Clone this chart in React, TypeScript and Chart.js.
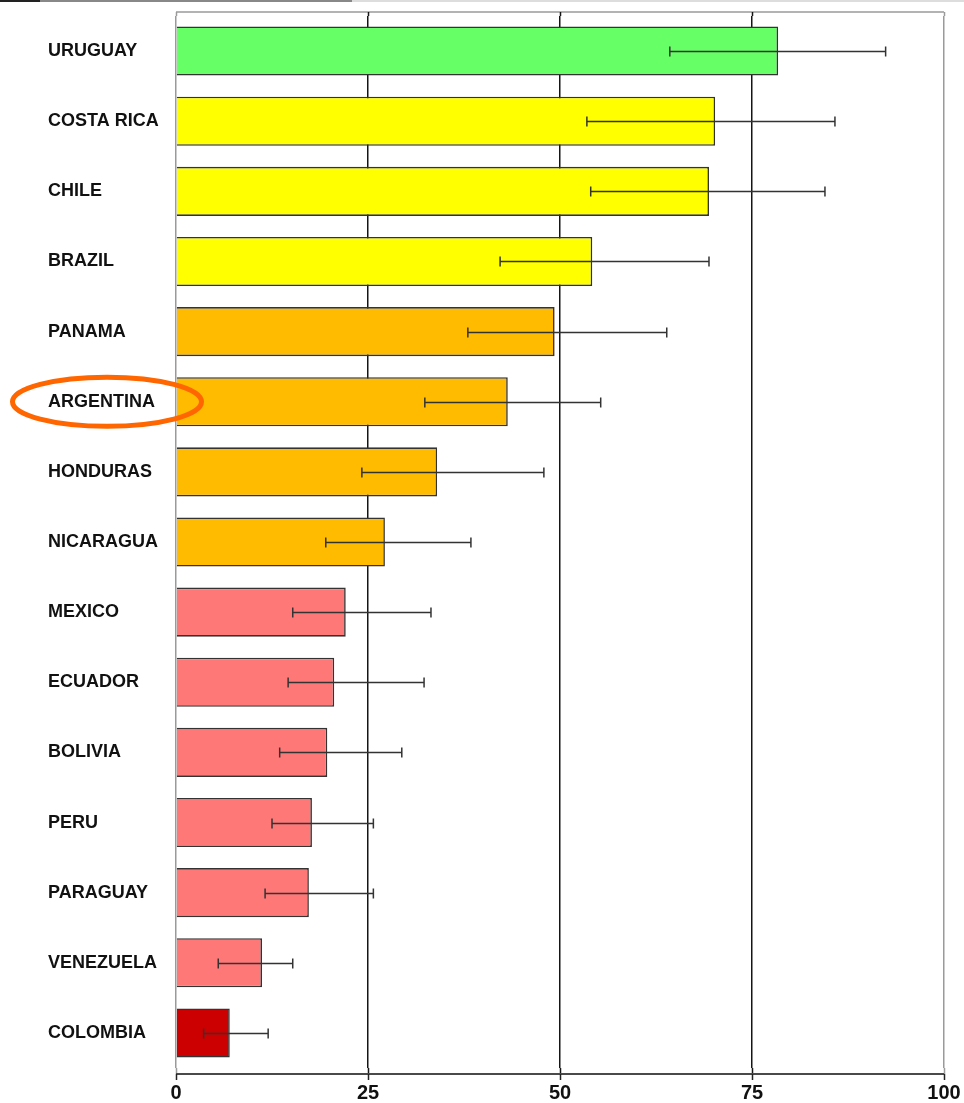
import React, { useEffect, useRef } from "react";
import { Chart, registerables } from "chart.js";

Chart.register(...registerables);

const countries = [
  "URUGUAY", "COSTA RICA", "CHILE", "BRAZIL", "PANAMA", "ARGENTINA", "HONDURAS",
  "NICARAGUA", "MEXICO", "ECUADOR", "BOLIVIA", "PERU", "PARAGUAY", "VENEZUELA", "COLOMBIA",
];
const values = [78.4, 70.2, 69.4, 54.2, 49.3, 43.2, 34.0, 27.2, 22.1, 20.6, 19.7, 17.7, 17.3, 11.2, 7.0];
const errLow = [64.3, 53.5, 54.0, 42.2, 38.0, 32.4, 24.2, 19.5, 15.2, 14.6, 13.5, 12.5, 11.6, 5.5, 3.6];
const errHigh = [92.4, 85.8, 84.5, 69.4, 63.9, 55.3, 47.9, 38.4, 33.2, 32.3, 29.4, 25.7, 25.7, 15.2, 12.0];
const barColors = [
  "#66FF66", "#FFFF00", "#FFFF00", "#FFFF00", "#FFBB00", "#FFBB00", "#FFBB00",
  "#FFBB00", "#FF7878", "#FF7878", "#FF7878", "#FF7878", "#FF7878", "#FF7878", "#CC0000",
];
const xTicks = [0, 25, 50, 75, 100];
const highlighted = "ARGENTINA";

const FONT = "'Liberation Sans', Arial, sans-serif";

const gridColor = (v: number) => (v === 0 || v === 100 ? "#9a9a9a" : "#151515");

const framePlugin = {
  id: "frame",
  afterDraw(chart: any) {
    const { ctx, chartArea } = chart;
    const xs = chart.scales.x;
    const top = chartArea.top - 4;
    const bot = chartArea.bottom + 6;
    const x0 = xs.getPixelForValue(0);
    const x100 = xs.getPixelForValue(100);
    ctx.save();
    ctx.lineWidth = 1.5;
    ctx.strokeStyle = "#9a9a9a";
    ctx.beginPath();
    ctx.moveTo(x0, top);
    ctx.lineTo(x100, top);
    ctx.stroke();
    xTicks.forEach((v) => {
      const x = Math.round(xs.getPixelForValue(v)) + 0.5;
      ctx.strokeStyle = gridColor(v);
      ctx.beginPath();
      ctx.moveTo(x, top);
      ctx.lineTo(x, chartArea.top);
      ctx.moveTo(x, chartArea.bottom);
      ctx.lineTo(x, bot);
      ctx.stroke();
    });
    ctx.strokeStyle = "#4a4a4a";
    ctx.lineWidth = 2;
    ctx.beginPath();
    ctx.moveTo(x0, bot);
    ctx.lineTo(x100, bot);
    ctx.stroke();
    ctx.lineWidth = 1.5;
    ctx.strokeStyle = "#222";
    xTicks.forEach((v) => {
      const x = Math.round(xs.getPixelForValue(v)) + 0.5;
      ctx.beginPath();
      ctx.moveTo(x, bot);
      ctx.lineTo(x, bot + 6);
      ctx.stroke();
    });
    const ys = chart.scales.y;
    const idx = countries.indexOf(highlighted);
    const cy = ys.getPixelForValue(idx);
    ctx.strokeStyle = "#FF6600";
    ctx.lineWidth = 5;
    ctx.beginPath();
    ctx.ellipse(xs.left - 69, cy, 94.5, 24.5, 0, 0, Math.PI * 2);
    ctx.stroke();
    ctx.restore();
  },
};

const errorBarPlugin = {
  id: "errorBars",
  afterDatasetsDraw(chart: any) {
    const { ctx } = chart;
    const xs = chart.scales.x;
    const meta = chart.getDatasetMeta(0);
    ctx.save();
    ctx.strokeStyle = "#333";
    ctx.lineWidth = 1.5;
    meta.data.forEach((bar: any, i: number) => {
      const y = Math.round(bar.y) + 0.5;
      const a = xs.getPixelForValue(errLow[i]);
      const b = xs.getPixelForValue(errHigh[i]);
      ctx.beginPath();
      ctx.moveTo(a, y);
      ctx.lineTo(b, y);
      ctx.moveTo(a, y - 5);
      ctx.lineTo(a, y + 5);
      ctx.moveTo(b, y - 5);
      ctx.lineTo(b, y + 5);
      ctx.stroke();
    });
    ctx.restore();
  },
};

export default function App() {
  const ref = useRef<HTMLCanvasElement | null>(null);
  useEffect(() => {
    if (!ref.current) return;
    const chart = new Chart(ref.current, {
      type: "bar",
      data: {
        labels: countries,
        datasets: [
          {
            data: values,
            backgroundColor: barColors,
            borderColor: "#333",
            borderWidth: 1.6,
            barPercentage: 0.7,
            categoryPercentage: 1,
          },
        ],
      },
      options: {
        indexAxis: "y",
        animation: false,
        responsive: false,
        devicePixelRatio: 1,
        layout: { padding: { left: 48, right: 20, top: 16, bottom: 0 } },
        plugins: { legend: { display: false }, tooltip: { enabled: false } },
        scales: {
          x: {
            type: "linear",
            min: 0,
            max: 100,
            afterBuildTicks: (s: any) => {
              s.ticks = xTicks.map((v) => ({ value: v }));
            },
            afterFit: (s: any) => {
              s.height = 35;
              s.paddingLeft = 0;
              s.paddingRight = 0;
            },
            grid: {
              color: (c: any) => gridColor(c.tick ? c.tick.value : 0),
              lineWidth: 1.5,
              drawTicks: false,
            },
            border: { display: false },
            ticks: {
              padding: 13,
              color: "#111",
              font: { family: FONT, size: 20, weight: "bold" },
            },
          },
          y: {
            afterFit: (s: any) => {
              s.width = 128;
            },
            grid: { display: false },
            border: { display: false },
            ticks: {
              crossAlign: "far",
              color: "#111",
              font: { family: FONT, size: 18, weight: "bold" },
            },
          },
        },
      },
      plugins: [framePlugin, errorBarPlugin],
    } as any);
    return () => chart.destroy();
  }, []);

  return (
    <div style={{ position: "fixed", left: 0, top: 0, width: 964, height: 1103, background: "#fff" }}>
      <canvas ref={ref} width={964} height={1103} style={{ display: "block", width: 964, height: 1103 }} />
      <div style={{ position: "absolute", left: 0, top: 0, width: 40, height: 2, background: "#222" }} />
      <div style={{ position: "absolute", left: 40, top: 0, width: 312, height: 2, background: "#888" }} />
      <div style={{ position: "absolute", left: 352, top: 0, width: 612, height: 2, background: "#ddd" }} />
    </div>
  );
}
